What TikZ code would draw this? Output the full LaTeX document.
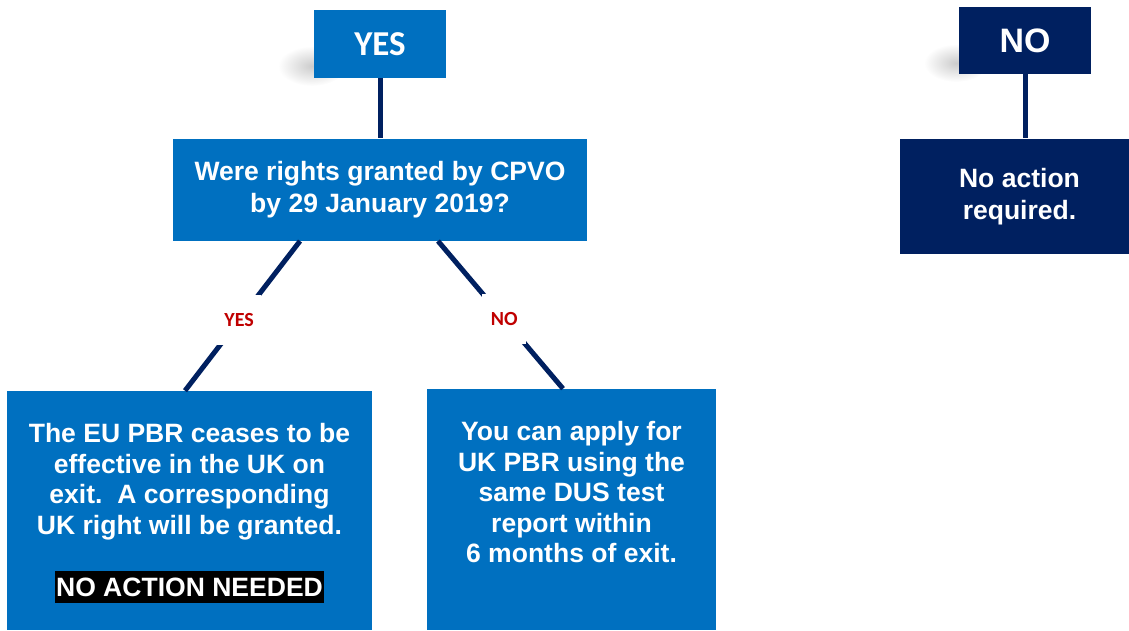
\documentclass[tikz,border=0pt]{standalone}
\usepackage{fontspec}
\setmainfont{Liberation Sans}
\newfontfamily\calibri{Carlito}
\usetikzlibrary{positioning}
\definecolor{boxblue}{HTML}{0070C0}
\definecolor{navy}{HTML}{002060}
\definecolor{labelred}{HTML}{C00000}

\begin{document}
\begin{tikzpicture}[x=0.02cm,y=-0.02cm,
	blue node/.style={rectangle,fill=boxblue,text=white,font=\bfseries,align=center,inner sep=0pt},
	navy node/.style={rectangle,fill=navy,text=white,font=\bfseries,align=center,inner sep=0pt},
	text node/.style={text=white,align=center,inner sep=0pt,font=\fontsize{15.1}{17.4}\selectfont\bfseries},
	link/.style={every edge/.style={draw=navy,line width=0.1cm}},
	answer/.style={pos=0.53,fill=white,text=labelred,minimum width=0.88cm,minimum height=1cm,inner sep=0pt,font=\calibri\fontsize{11.4}{13}\selectfont\bfseries}]
		\useasboundingbox (0,0) rectangle (1129,630);
		% soft shadows behind the two top boxes
		\shade[inner color=black!20,outer color=white] (312,66) ellipse [x radius=34,y radius=20];
		\shade[inner color=black!20,outer color=white] (956,63) ellipse [x radius=32,y radius=19];
		
		\node[blue node,minimum width=2.64cm,minimum height=1.36cm,font=\calibri\fontsize{19.9}{22}\selectfont\bfseries] (1) at (380,44) {YES};
		\node[blue node,minimum width=8.28cm,minimum height=2.04cm,font=\fontsize{15.1}{18.2}\selectfont\bfseries] (2) [below=1.2cm of 1] {Were rights granted by CPVO\\by 29 January 2019?};
		\node[blue node,minimum width=7.3cm,minimum height=4.78cm] (3) at (189.5,510.5) {};
		\node[blue node,minimum width=5.78cm,minimum height=4.82cm] (4) at (571.5,509.5) {};
		\node[text node,anchor=north] (t3) at (189.5,423) {The EU PBR ceases to be\\effective in the UK on\\exit.\ \ A corresponding\\UK right will be granted.};
		\node[text node,fill=black,inner xsep=0.02cm,minimum height=0.64cm] (n3) at (189.5,587) {NO ACTION NEEDED};
		\node[text node,anchor=north] (t4) at (571.5,421) {You can apply for\\UK PBR using the\\same DUS test\\report within\\6 months of exit.};
		
		\node[navy node,minimum width=2.64cm,minimum height=1.34cm,font=\fontsize{19.3}{22}\selectfont\bfseries] (5) at (1025,40.5) {NO};
		\node[navy node,minimum width=4.78cm,minimum height=2.3cm,font=\fontsize{15.1}{18.2}\selectfont\bfseries] (6) [below=1.28cm of 5,xshift=-0.11cm] {No action\\required.};
		
		\path[link]
		(1) edge (1 |- 2.north)
		([xshift=-1.6cm]2.south) edge node[answer] {YES} ([xshift=-0.09cm]3.north)
		([xshift=1.16cm]2.south) edge node[answer] {NO} ([xshift=-0.17cm]4.north)
		(5) edge (5 |- 6.north)
		;
		\end{tikzpicture}
\end{document}
